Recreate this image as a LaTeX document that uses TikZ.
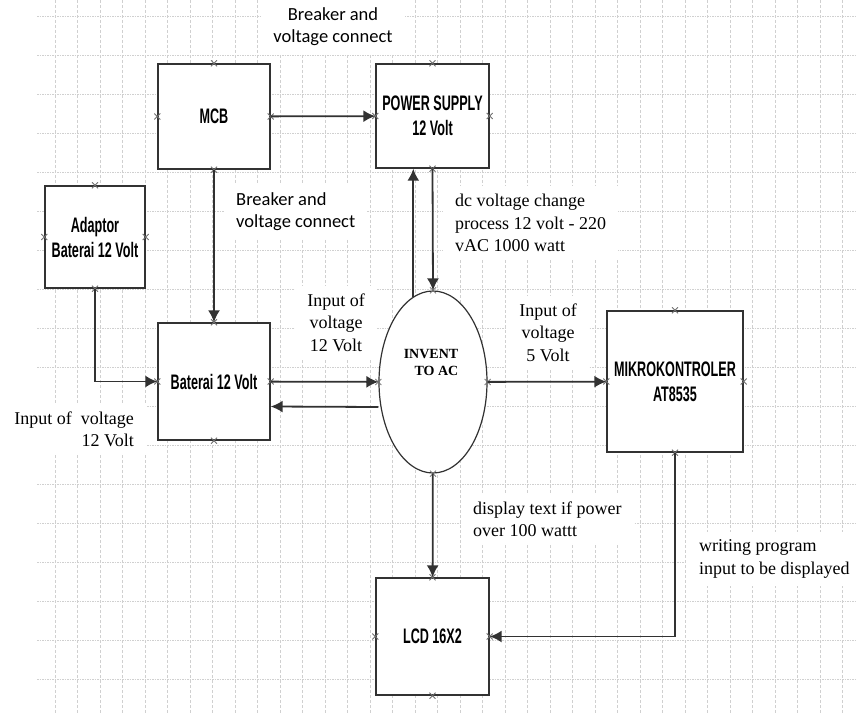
\documentclass[tikz,border=0pt]{standalone}
\usepackage{fontspec}
\setmainfont{Liberation Serif}
\newfontfamily\boxfont[FakeStretch=0.6]{Liberation Sans}
\newfontfamily\calfont{Carlito}
\usetikzlibrary{arrows.meta,positioning,shapes.geometric}
\definecolor{gridgray}{RGB}{208,208,208}
\definecolor{linegray}{RGB}{50,50,50}
\definecolor{markgray}{RGB}{110,110,110}

\begin{document}
\begin{tikzpicture}[x=1pt, y=-1pt,
    box/.style={draw=linegray, line width=1.4pt, fill=white, inner sep=0pt, align=center,
                font=\boxfont\bfseries\fontsize{21}{25}\selectfont},
    lbl/.style={fill=white, inner xsep=12pt, inner ysep=8pt, font=\fontsize{18}{22.5}\selectfont},
    cal/.style={lbl, font=\calfont\fontsize{18.5}{22}\selectfont},
    gridv/.style={gridgray, line width=0.8pt, dash pattern=on 3pt off 2pt},
    gridh/.style={gridgray, line width=1.2pt, dash pattern=on 1.5pt off 1pt},
    xmark/.style={markgray, line width=0.8pt},
    arr/.style={draw=linegray, line width=1.8pt, -{Latex[length=12pt,width=12pt]}}
]
    \useasboundingbox (0,0) rectangle (862,714);
    \fill[white] (0,0) rectangle (862,714);

    \foreach \gx in {0,...,35}
        \draw[gridv] (55+22.5*\gx,0) -- (55+22.5*\gx,714);
    \foreach \gy in {0,...,17}
        \draw[gridh] (37,16.7+39*\gy) -- (856,16.7+39*\gy);

    \node[cal, align=center] (brk1) at (333,27) {Breaker and\\voltage connect};
    \node[cal, align=left, anchor=west] (brk2) at (224,211.5) {Breaker and\\voltage connect};
    \node[lbl, align=center] (in12) at (336,322.5) {Input of\\voltage\\12 Volt};
    \node[lbl, align=left, anchor=west] (dcv) at (443,223) {dc voltage change\\process 12 volt - 220\\vAC 1000 watt};
    \node[lbl, align=center] (in5) at (548,332.5) {Input of\\voltage\\5 Volt};
    \node[lbl, align=left, anchor=west] (disp) at (461,519) {display text if power\\over 100 wattt};
    \node[lbl, align=left, anchor=west] (writ) at (687,559) {writing program\\input to be displayed};
    \node[lbl, align=right, anchor=east] (inL) at (146,429.5) {Input of~~voltage\\12 Volt};

    \node[box, minimum width=112pt, minimum height=105pt] (mcb) at (214,116.5) {MCB};
    \node[box, minimum width=113pt, minimum height=104pt] (ps) at (432.5,116) {POWER SUPPLY\\12 Volt};
    \node[box, minimum width=100pt, minimum height=102pt] (adp) at (95,237) {Adaptor\\Baterai 12 Volt};
    \node[box, minimum width=112pt, minimum height=117pt] (bat) at (214,381.5) {Baterai 12 Volt};
    \node[draw=linegray, line width=1.2pt, fill=white, ellipse, inner sep=0pt,
          minimum width=108pt, minimum height=182pt] (inv) at (433,382) {};
    \node[align=right, inner sep=0pt, font=\bfseries\fontsize{14}{17}\selectfont]
          (invtxt) at ([xshift=-2pt,yshift=20pt]inv.center) {INVENT\\TO AC};
    \node[box, minimum width=136pt, minimum height=141pt] (mik) at (675,381.5) {MIKROKONTROLER\\AT8535};
    \node[box, minimum width=113pt, minimum height=117pt] (lcd) at (432.5,636.5) {LCD 16X2};

    \foreach \p in {mcb.north,mcb.west,mcb.east,mcb.south,ps.north,ps.west,ps.east,ps.south,
                    adp.north,adp.west,adp.east,adp.south,bat.north,bat.west,bat.east,bat.south,
                    inv.north,inv.west,inv.east,inv.south,mik.north,mik.west,mik.east,mik.south,
                    lcd.north,lcd.west,lcd.east,lcd.south}
        \draw[xmark] (\p) +(-3,-3) -- +(3,3) +(-3,3) -- +(3,-3);

    \draw[arr] (mcb) -- (ps);
    \draw[arr] (mcb) -- (bat);
    \draw[arr] (adp.south) |- (bat.west);
    \draw[arr] (bat) -- (inv);
    \draw[arr] ([yshift=-25pt]inv.west) -- ([yshift=-25pt]bat.east);
    \draw[arr] (inv) -- (mik);
    \draw[arr] (ps.south) -- (inv.north);
    \draw[arr] (inv.103) -- (inv.103 |- ps.south);
    \draw[arr] (inv) -- (lcd);
    \draw[arr] (mik.south) |- (lcd.east);
\end{tikzpicture}
\end{document}
